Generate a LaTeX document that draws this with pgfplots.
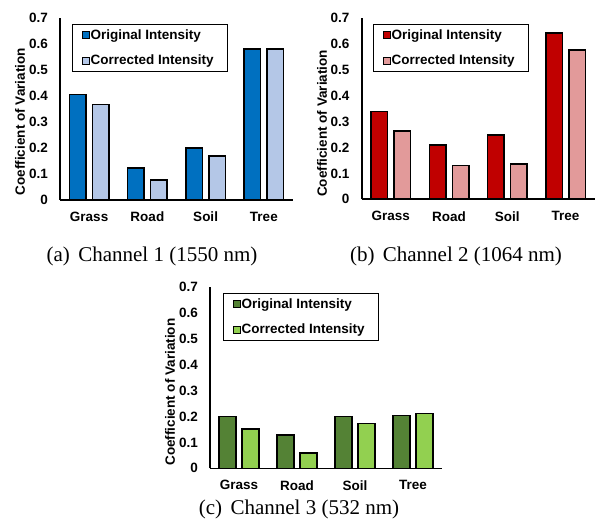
\documentclass[border=0pt]{standalone}
\usepackage{fontspec}
\setmainfont{Liberation Serif}
\setsansfont{Liberation Sans}
\usepackage{pgfplots}
\pgfplotsset{compat=1.18}
\definecolor{blueA}{HTML}{0070C0}
\definecolor{blueB}{HTML}{B4C7E7}
\definecolor{redA}{HTML}{C00000}
\definecolor{redB}{HTML}{E29A9A}
\definecolor{greenA}{HTML}{548235}
\definecolor{greenB}{HTML}{92D050}
\newcommand{\lblfont}{\sffamily\bfseries\fontsize{13.5}{15}\selectfont}
\pgfplotsset{
  cvstyle/.style={
    scale only axis, width=233pt, height=182pt,
    ybar=6.5pt, bar width=16.5pt,
    xmin=0, xmax=4, ymin=0, ymax=0.7,
    axis x line=bottom, axis y line=left,
    axis line style={-, line width=1.6pt, black},
    xtick={0.5,1.5,2.5,3.5}, xticklabels={Grass,Road,Soil,Tree},
    ytick={0,0.1,0.2,0.3,0.4,0.5,0.6,0.7},
    yticklabels={0,0.1,0.2,0.3,0.4,0.5,0.6,0.7},
    major tick length=0pt,
    tick label style={font=\lblfont},
    yticklabel style={inner sep=0pt, anchor=east, xshift=-12pt},
    xticklabel style={inner sep=0pt, anchor=north, yshift=-12pt},
    ylabel={Coefficient of Variation},
    ylabel style={font=\lblfont, anchor=center},
    legend style={draw=black, line width=1.3pt, font=\lblfont,
      inner xsep=9pt, inner ysep=3pt, row sep=10pt,
      nodes={inner xsep=1pt, inner ysep=2pt}, legend cell align=left, anchor=north west},
    legend image code/.code={\draw[#1, draw=black, line width=1pt] (1pt,-3.5pt) rectangle (8pt,3.5pt);},
    every axis plot/.append style={draw=black, line width=1.6pt},
    axis on top,
  }
}
\begin{document}
\begin{tikzpicture}[x=1pt,y=1pt]
\useasboundingbox (0,0) rectangle (595,531);
% Panel a
\begin{axis}[cvstyle, at={(60pt,331pt)}, anchor=south west,
  ylabel style={at={(axis description cs:-0.172,0.43)}},
  legend style={at={(axis description cs:0.0515,0.967)}}]
\addplot[fill=blueA] coordinates {(0.5,0.406) (1.5,0.124) (2.5,0.201) (3.5,0.581)};
\addplot[fill=blueB] coordinates {(0.5,0.368) (1.5,0.077) (2.5,0.170) (3.5,0.581)};
\legend{Original Intensity\kern4pt, Corrected Intensity\kern4pt}
\end{axis}
% Panel b
\begin{axis}[cvstyle, at={(361.7pt,331.7pt)}, anchor=south west, height=181pt,
  ylabel style={at={(axis description cs:-0.170,0.42)}},
  legend style={at={(axis description cs:0.0485,0.968)}}]
\addplot[fill=redA] coordinates {(0.5,0.339) (1.5,0.210) (2.5,0.249) (3.5,0.644)};
\addplot[fill=redB] coordinates {(0.5,0.264) (1.5,0.130) (2.5,0.137) (3.5,0.577)};
\legend{Original Intensity\kern4pt, Corrected Intensity\kern4pt}
\end{axis}
% Panel c
\begin{axis}[cvstyle, at={(210pt,62.7pt)}, anchor=south west, width=232pt, height=181.6pt,
  ylabel style={at={(axis description cs:-0.172,0.42)}},
  legend style={at={(axis description cs:0.056,0.965)}}]
\addplot[fill=greenA] coordinates {(0.5,0.199) (1.5,0.128) (2.5,0.199) (3.5,0.203)};
\addplot[fill=greenB] coordinates {(0.5,0.152) (1.5,0.060) (2.5,0.173) (3.5,0.212)};
\legend{Original Intensity\kern4pt, Corrected Intensity\kern4pt}
\end{axis}
\node[anchor=base, font=\fontsize{21}{24}\selectfont, inner sep=0pt] at (152,269) {(a)\hspace{0.4em}Channel 1 (1550 nm)};
\node[anchor=base, font=\fontsize{21}{24}\selectfont, inner sep=0pt] at (456,269) {(b)\hspace{0.4em}Channel 2 (1064 nm)};
\node[anchor=base, font=\fontsize{21}{24}\selectfont, inner sep=0pt] at (299,17) {(c)\hspace{0.4em}Channel 3 (532 nm)};
\end{tikzpicture}
\end{document}
